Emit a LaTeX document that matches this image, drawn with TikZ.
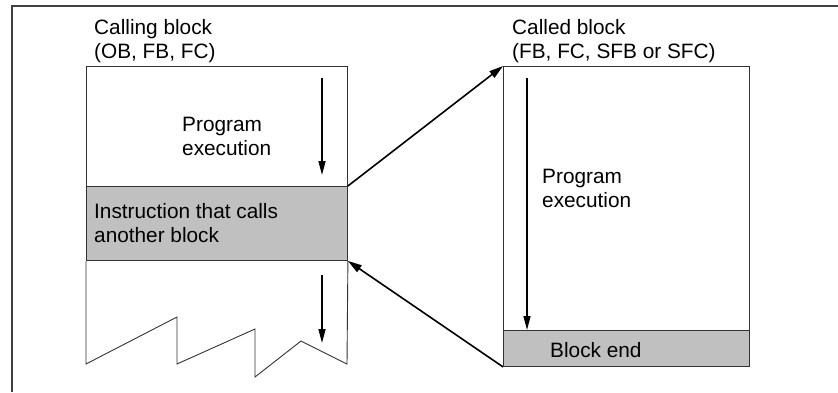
\documentclass[tikz,border=0pt]{standalone}
\usepackage{fontspec}
\setmainfont{Liberation Sans}
\usepackage{tikz}
\usetikzlibrary{positioning}
\usetikzlibrary{arrows.meta}
\usetikzlibrary{calc}

\definecolor{bandgray}{HTML}{C0C0C0}
\tikzset{
  blk/.style={draw=black!80, line width=0.9pt, inner sep=0pt, anchor=north west},
  band/.style={blk, fill=bandgray},
  txt/.style={anchor=base west, inner sep=0pt, align=left,
    font=\fontsize{20.8}{24}\selectfont},
  flow/.style={-{Triangle[length=14pt,width=7pt]}, line width=1.6pt},
  link/.style={-{Triangle[length=14pt,width=8pt]}, line width=1.6pt}
}

\begin{document}
\begin{tikzpicture}[x=1pt, y=-1pt]
  \useasboundingbox (0,0) rectangle (838,392);
  % outer frame (only top and left edges show)
  \draw[black!75, line width=1.4pt] (838,6) -- (12,6) -- (12,392);

  % calling block
  \node[blk, minimum width=261pt, minimum height=120pt] (callhead) at (86,66) {};
  \node[band, minimum width=261pt, minimum height=74pt] (call) at (86,186) {};
  \draw[black!80, line width=0.9pt] (call.south west) -- (86,364) -- (177,317) -- (177,364)
    -- (255,329) -- (255,377) -- (301,341) -- (347,364) -- (call.south east);
  \node[txt] (calltitle) at (94,58) {Calling block\\(OB, FB, FC)};
  \node[txt] (callprog) at (182,155) {Program\\execution};
  \node[txt] (calltxt) at (94,242) {Instruction that calls\\another block};
  \coordinate (c1) at (322,78);
  \coordinate (c2) at (322,175);
  \coordinate (c3) at (322,275);
  \coordinate (c4) at (322,343);
  \draw[flow] (c1) -- (c2);
  \draw[flow] (c3) -- (c4);

  % called block
  \node[blk, minimum width=246pt, minimum height=264pt] (called) at (503,66) {};
  \node[band, minimum width=246pt, minimum height=36pt] (bend) at (503,330) {};
  \node[txt] (calledtitle) at (512,58) {Called block\\(FB, FC, SFB or SFC)};
  \node[txt] (calledprog) at (542,207) {Program\\execution};
  \node[txt] (bendtxt) at (550,357) {Block end};
  \coordinate (r1) at (527,78);
  \coordinate (r2) at (527,330);
  \draw[flow] (r1) -- (r2);

  % call and return
  \draw[link] (call.north east) -- (called.north west);
  \draw[link] (bend.south west) -- (call.south east);
\end{tikzpicture}
\end{document}
